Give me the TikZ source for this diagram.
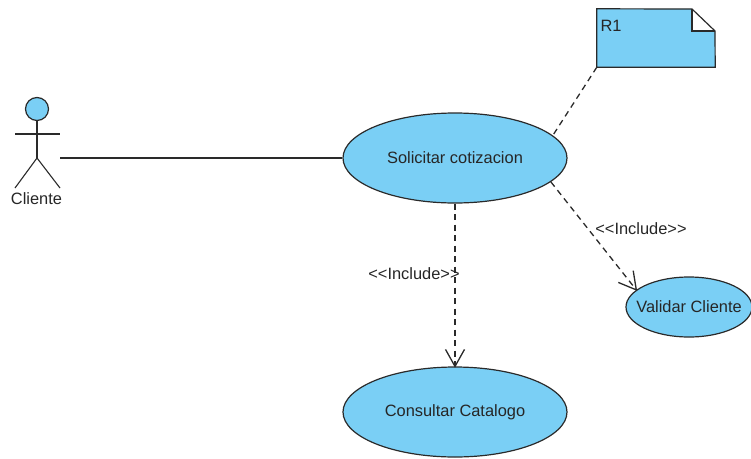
\documentclass[tikz,border=0pt]{standalone}
\usepackage{fontspec}
\setmainfont{Liberation Sans}
\usetikzlibrary{arrows.meta}
\usetikzlibrary{shapes.geometric}

\definecolor{ucblue}{HTML}{7ACFF5}
\definecolor{ucline}{HTML}{2A2A2A}

\pgfdeclarearrow{
  name=OpenVee,
  defaults={length=17pt, width=19pt},
  parameters={\the\pgfarrowlength,\the\pgfarrowwidth},
  setup code={
    \pgfarrowssettipend{0pt}
    \pgfarrowssetlineend{-1pt}
    \pgfarrowssavethe\pgfarrowlength
    \pgfarrowssavethe\pgfarrowwidth
  },
  drawing code={
    \pgfsetdash{}{0pt}
    \pgfsetlinewidth{1.3pt}
    \pgfpathmoveto{\pgfqpoint{-\pgfarrowlength}{.5\pgfarrowwidth}}
    \pgfpathlineto{\pgfpointorigin}
    \pgfpathlineto{\pgfqpoint{-\pgfarrowlength}{-.5\pgfarrowwidth}}
    \pgfusepathqstroke
  }
}

\tikzset{
  usecase/.style={ellipse, draw=ucline, fill=ucblue, line width=1.2pt, inner sep=0pt, text=black!85},
  label/.style={inner sep=0pt, text=black!85},
  dep/.style={ucline, dash pattern=on 6pt off 4.5pt, line width=1.3pt},
  depopen/.style={dep, -{OpenVee}}
}

\begin{document}
\begin{tikzpicture}[x=1pt, y=-1pt, font=\fontsize{16.4}{18}\selectfont]
  \useasboundingbox (0,0) rectangle (751,458);

  % Use cases
  \node[usecase, minimum width=224pt, minimum height=90pt] (solicitar) at (455,158) {Solicitar cotizacion};
  \node[usecase, minimum width=224pt, minimum height=90pt] (consultar) at (455,412) {Consultar Catalogo};
  \node[usecase, minimum width=126pt, minimum height=60pt, inner xsep=-20pt] (validar) at (689,307) {Validar Cliente};

  % Actor
  \node[circle, draw=ucline, fill=ucblue, line width=1.2pt, minimum size=23pt, inner sep=0pt] (head) at (37,109) {};
  \coordinate (waist) at (37,158);
  \coordinate (handL) at (15,134);
  \coordinate (handR) at (60,134);
  \coordinate (footL) at (15,188);
  \coordinate (footR) at (60,188);
  \coordinate (assocStart) at (60,158);
  \draw[ucline, line width=1.1pt] (head) -- (waist);
  \draw[ucline, line width=1.1pt] (handL) -- (handR);
  \draw[ucline, line width=1.1pt] (footL) -- (waist) -- (footR);
  \node[label] (cliente) at (36.5,199) {Cliente};

  % Note with folded corner
  \node[minimum width=118pt, minimum height=58pt, inner sep=0pt] (note) at (656,38) {};
  \coordinate (foldA) at (692,9);
  \coordinate (foldB) at (715,31);
  \coordinate (foldC) at (692,31);
  \fill[ucblue] (note.north west) -- (foldA) -- (foldC) -- (foldB) -- (note.south east) -- (note.south west) -- cycle;
  \draw[ucline, line width=1.2pt] (note.north west) -- (foldA) -- (foldB) -- (note.south east) -- (note.south west) -- cycle;
  \draw[ucline, line width=1.2pt] (foldA) -- (foldC) -- (foldB);
  \node[label] (noteText) at (611,26) {R1};

  % Connectors
  \draw[ucline, line width=1.1pt] (assocStart) -- (solicitar);
  \draw[dep] (note.south west) -- (solicitar.13.3);
  \draw[depopen] (solicitar) -- (consultar);
  \draw[depopen] (solicitar.-14.5) -- (validar.162.6);

  % Stereotype labels
  \node[label] (incA) at (414,274) {<{}<Include>{}>};
  \node[label] (incB) at (641,229) {<{}<Include>{}>};
\end{tikzpicture}
\end{document}
